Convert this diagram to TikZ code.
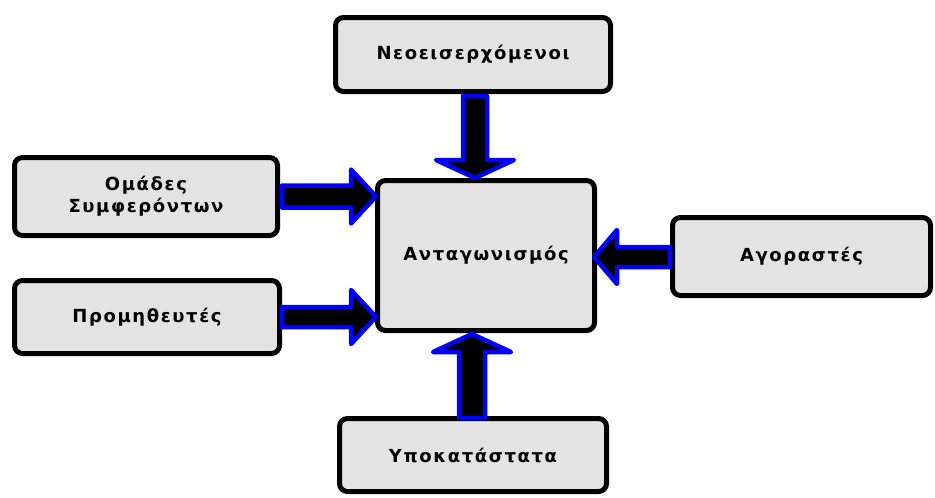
\documentclass[tikz,border=0pt]{standalone}
\usepackage{fontspec}
\setmainfont{DejaVu Sans}[BoldFont={DejaVu Sans Bold}]
\newfontfamily\boxfont{DejaVu Sans Bold}[LetterSpace=9]
\usetikzlibrary{calc}

\tikzset{
  force/.style={draw=black, line width=5pt, fill=black!11, rounded corners=8pt,
    align=center, inner sep=0pt, font=\boxfont\fontsize{18}{22}\selectfont},
  barrow/.style={draw=blue, fill=black, line width=4.5pt, line join=round}
}

% block arrow: #1 name, #2 start, #3 tip, #4 shaft half-width, #5 head half-width, #6 head length
\newcommand\blockarrow[6]{%
  \path ($(#3)!#6!(#2)$) coordinate (#1-b);
  \draw[barrow]
    ($(#2)!#4!90:(#3)$) -- ($(#1-b)!#4!-90:(#2)$) -- ($(#1-b)!#5!-90:(#2)$)
    -- (#3)
    -- ($(#1-b)!#5!90:(#2)$) -- ($(#1-b)!#4!90:(#2)$) -- ($(#2)!#4!-90:(#3)$) -- cycle;
}

\begin{document}
\begin{tikzpicture}[x=1pt, y=-1pt]
  \useasboundingbox (0,0) rectangle (935,498);

  \node[force, minimum width=275pt, minimum height=74pt]  (entr) at (473,54.5)   {Νεοεισερχόμενοι};
  \node[force, minimum width=217pt, minimum height=150pt] (comp) at (486,255.5)  {Ανταγωνισμός};
  \node[force, minimum width=263pt, minimum height=78pt]  (grp)  at (146,196.5)  {Ομάδες\\Συμφερόντων};
  \node[force, minimum width=265pt, minimum height=73pt]  (supp) at (147,317)    {Προμηθευτές};
  \node[force, minimum width=258pt, minimum height=78pt]  (buy)  at (801.5,256.5) {Αγοραστές};
  \node[force, minimum width=267pt, minimum height=73pt]  (subs) at (473,455)    {Υποκατάστατα};

  % arrow end points
  \coordinate (e0) at ($(entr.south)+(2,2)$);
  \coordinate (e1) at (e0 |- comp.north);
  \coordinate (g0) at ($(grp.east)+(2,0)$);
  \coordinate (g1) at ($(g0 -| comp.west)+(1,0)$);
  \coordinate (s0) at ($(supp.east)+(0,0)$);
  \coordinate (s1) at ($(s0 -| comp.west)+(1,0)$);
  \coordinate (b0) at ($(buy.west)+(0,0.5)$);
  \coordinate (b1) at ($(b0 -| comp.east)+(-3,0)$);
  \coordinate (u0) at ($(subs.north)+(-1,2)$);
  \coordinate (u1) at ($(u0 |- comp.south)+(0,1)$);

  \blockarrow{ae}{e0}{e1}{12pt}{39pt}{18pt}
  \blockarrow{ag}{g0}{g1}{11pt}{27pt}{25pt}
  \blockarrow{as}{s0}{s1}{10pt}{27pt}{25pt}
  \blockarrow{ab}{b0}{b1}{10pt}{27pt}{23pt}
  \blockarrow{au}{u0}{u1}{13pt}{39pt}{18pt}
\end{tikzpicture}
\end{document}
